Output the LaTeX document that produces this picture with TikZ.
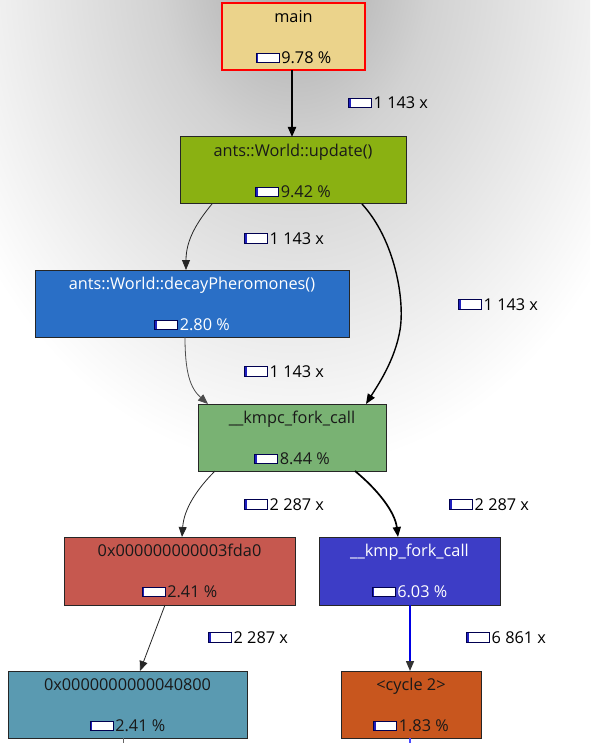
\documentclass[tikz,border=0pt]{standalone}
\usepackage{fontspec}
\setmainfont{Open Sans}
\usetikzlibrary{arrows.meta}
\definecolor{cmain}{HTML}{EBD38B}
\definecolor{cupd}{HTML}{8AB112}
\definecolor{cdecay}{HTML}{2A6FC6}
\definecolor{ckmpc}{HTML}{79B273}
\definecolor{cfda}{HTML}{C6584F}
\definecolor{ckmp}{HTML}{3D3DC6}
\definecolor{cfourty}{HTML}{5A9AB1}
\definecolor{ccyc}{HTML}{C8561E}
\definecolor{barnavy}{HTML}{000050}
\definecolor{barblue}{HTML}{2020C0}
\definecolor{bgdark}{HTML}{A8A8A8}
\definecolor{bgmid}{HTML}{D2D2D2}
\pgfdeclareradialshading{bgshade}{\pgfpoint{0bp}{0bp}}{color(0bp)=(bgdark); color(9bp)=(bgmid); color(25bp)=(white); color(50bp)=(white)}
\newcommand{\pbar}{\raisebox{1.5pt}{\setlength{\fboxsep}{0pt}\setlength{\fboxrule}{0.9pt}\fcolorbox{barnavy}{white}{\textcolor{barblue}{\rule{1.6pt}{8.2pt}}\hspace{20.6pt}}}}
\newcommand{\cnode}[9]{%
  \node[fbox, fill=#6, minimum width={#4-#2}, minimum height={#5-#3}] (#1) at ({(#2+#4)/2},{(#3+#5)/2}) {};
  \node[text=#7, anchor=base] (#1-t) at ([yshift=-19.5pt]#1.north) {#8};
  \node[text=#7, anchor=base] (#1-p) at ([yshift=-60.5pt]#1.north) {\pbar\hspace{1.5pt}#9};
}
\begin{document}
\begin{tikzpicture}[x=1pt,y=-1pt,
  font=\fontsize{16.3}{19}\selectfont,
  fbox/.style={draw=black!85, line width=1pt, inner sep=0pt, outer sep=0pt, rectangle},
  lab/.style={anchor=base west, inner sep=0pt},
  tip/.style={-{Triangle[length=10pt,width=8pt]}},
  thin edge/.style={tip, line width=0.8pt, black!85}]
\useasboundingbox (0,0) rectangle (590,743);
\begin{scope}
\clip (0,0) rectangle (590,743);
\fill[white] (0,0) rectangle (590,743);
\shade[shading=bgshade] (295,-30) ellipse [x radius=380, y radius=500];
\end{scope}

\cnode{main}{222}{3}{365}{70}{cmain}{black}{main}{9.78 \%}
\draw[red, line width=1.4pt] (main.south west) rectangle (main.north east);
\cnode{upd}{180}{137}{406}{204}{cupd}{black!90}{ants::World::update()}{9.42 \%}
\cnode{decay}{35}{270}{349}{337}{cdecay}{white}{ants::World::decayPheromones()}{2.80 \%}
\cnode{kmpc}{198}{404}{386}{471}{ckmpc}{black!90}{\_\_kmpc\_fork\_call}{8.44 \%}
\cnode{fda}{64}{537}{295}{605}{cfda}{black!90}{0x000000000003fda0}{2.41 \%}
\cnode{kmp}{319}{537}{500}{605}{ckmp}{white}{\_\_kmp\_fork\_call}{6.03 \%}
\cnode{fourty}{8}{671}{247}{738}{cfourty}{black!90}{0x0000000000040800}{2.41 \%}
\cnode{cyc}{341}{671}{481}{738}{ccyc}{black!90}{<cycle 2>}{1.83 \%}

% edges
\draw[tip, line width=2pt, black] (main.south) ++(-1.5pt,0) coordinate (m0) (m0) -- (m0 |- upd.north);
\draw[thin edge] ([xshift=32pt]upd.south west) .. controls (197,222) and (186,240) .. ([xshift=151pt]decay.north west);
\draw[tip, line width=1.4pt, black] ([xshift=-44pt]upd.south east) .. controls (395,240) and (405,300) .. (400,330) .. controls (395,360) and (378,385) .. ([xshift=-20pt]kmpc.north east);
\draw[thin edge, black!70] ([xshift=150pt]decay.south west) .. controls (185,372) and (190,388) .. ([xshift=10pt]kmpc.north west);
\draw[thin edge] ([xshift=17pt]kmpc.south west) .. controls (198,488) and (184,508) .. ([xshift=118pt]fda.north west);
\draw[tip, line width=1.7pt, black] ([xshift=-31pt]kmpc.south east) .. controls (378,490) and (395,512) .. ([xshift=79pt]kmp.north west);
\draw[thin edge] ([xshift=101pt]fda.south west) -- ([xshift=132pt]fourty.north west);
\draw[line width=1.4pt, blue!90!black, -{Triangle[length=10pt,width=8pt,color=black!80]}] ([xshift=91pt]kmp.south west) coordinate (k0) -- (k0 |- cyc.north);
\coordinate (f1) at (123,743);
\coordinate (c1) at (410,743);
\draw[black!60, line width=0.8pt] (f1 |- fourty.south) -- (f1);
\draw[blue!70, line width=1.2pt] (c1 |- cyc.south) -- (c1);

% edge labels
\node[lab] (l1) at (348,109) {\pbar\hspace{1.5pt}1 143 x};
\node[lab] (l2) at (244,244) {\pbar\hspace{1.5pt}1 143 x};
\node[lab] (l3) at (458,310) {\pbar\hspace{1.5pt}1 143 x};
\node[lab] (l4) at (244,377) {\pbar\hspace{1.5pt}1 143 x};
\node[lab] (l5) at (244,510) {\pbar\hspace{1.5pt}2 287 x};
\node[lab] (l6) at (449,510) {\pbar\hspace{1.5pt}2 287 x};
\node[lab] (l7) at (208,643) {\pbar\hspace{1.5pt}2 287 x};
\node[lab] (l8) at (466,643) {\pbar\hspace{1.5pt}6 861 x};
\end{tikzpicture}
\end{document}
